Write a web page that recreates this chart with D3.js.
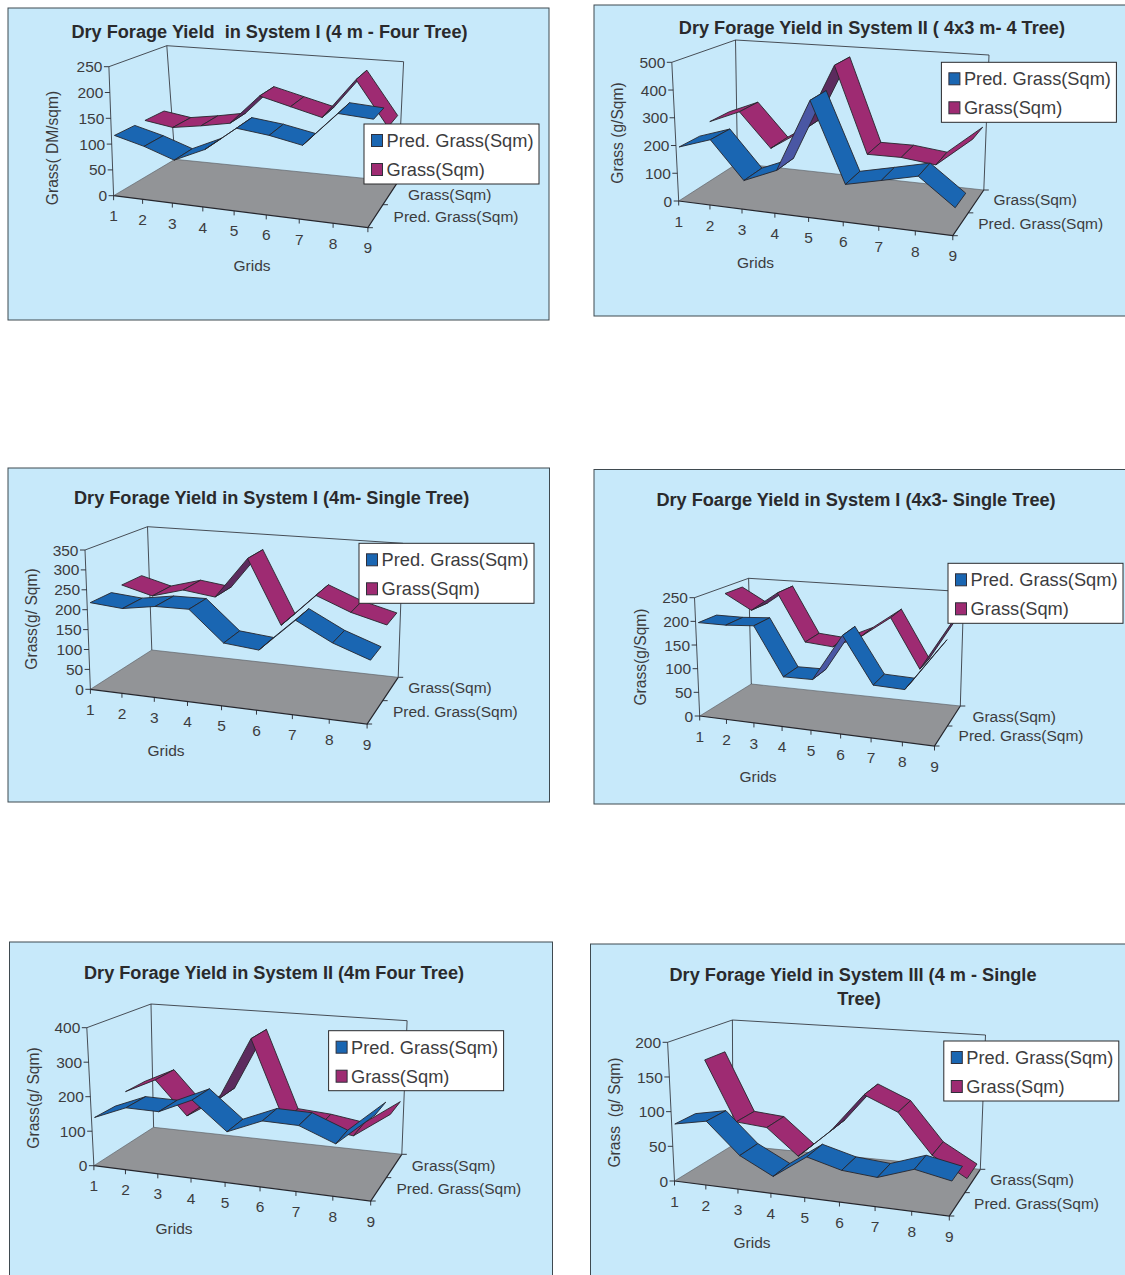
<!DOCTYPE html>
<html>
<head>
<meta charset="utf-8">
<script src="https://d3js.org/d3.v7.min.js"></script>
<style>
  html, body { margin: 0; padding: 0; background: #fff; }
  svg { display: block; }
  text { font-family: "Liberation Sans", Arial, sans-serif; fill: #3c3c3e; }
</style>
</head>
<body>
<svg id="sheet" width="1125" height="1275"></svg>
<script>
// Grid numbers shared by every plot
const grids = [1, 2, 3, 4, 5, 6, 7, 8, 9];
const seriesNames = ["Pred. Grass(Sqm)", "Grass(Sqm)"];

// Dry forage yield per grid, one pair of series per planting system
const predFourTree4m   = [114, 99, 79, 106, 153, 146, 134, 200, 196];
const grassFourTree4m  = [114, 105, 114, 125, 186, 170, 154, 235, 147];
const predFourTree4x3  = [189, 227, 94, 143, 399, 121, 148, 176, 85];
const grassFourTree4x3 = [224, 272, 145, 221, 474, 159, 160, 146, 249];
const predSingle4m     = [214, 207, 220, 221, 147, 139, 219, 174, 143];
const grassSingle4m    = [221, 199, 222, 211, 318, 154, 238, 203, 180];
const predSingle4x3    = [195, 195, 199, 99, 100, 196, 102, 100, 185];
const grassSingle4x3   = [235, 202, 245, 142, 137, 165, 210, 107, 210];
const predSysII4m      = [135, 173, 172, 215, 136, 177, 175, 136, 225];
const grassSysII4m     = [162, 207, 107, 167, 356, 122, 115, 100, 172];
const predSysIII4m     = [80, 89, 45, 21, 54, 41, 37, 54, 44];
const grassSysIII4m    = [154, 64, 60, 22, 64, 122, 101, 44, 16];

// Value axis tick labels
const ticks250 = [0, 50, 100, 150, 200, 250];
const ticks500 = [0, 100, 200, 300, 400, 500];
const ticks350 = [0, 50, 100, 150, 200, 250, 300, 350];
const ticks400 = [0, 100, 200, 300, 400];
const ticks200 = [0, 50, 100, 150, 200];

// Panel frames and the projected corners of each plot box
const panels = [
  { frame: [8, 8, 541, 312],
    title: [{ t: "Dry Forage Yield  in System I (4 m - Four Tree)", x: 269.5, y: 37.5 }],
    yLabel: { t: "Grass( DM/sqm)", x: 52.5, y: 148 }, grids: { x: 252, y: 265.5 },
    depth: [{ x: 393.6, y: 216.5 }, { x: 407.9, y: 194.5 }],
    legend: [364, 124], pred: predFourTree4m, grass: grassFourTree4m, ticks: ticks250,
    fl0: [113.6, 195.7], fr0: [367.9, 227.7], bl0: [175, 159.3], br0: [398, 181.7],
    fl1: [108.9, 66.7], bl1: [166.8, 45.7], br1: [403.6, 61.7] },
  { frame: [594, 5, 540, 311],
    title: [{ t: "Dry Forage Yield in System II ( 4x3 m- 4 Tree)", x: 871.9, y: 33.5 }],
    yLabel: { t: "Grass (g/Sqm)", x: 617.7, y: 133 }, grids: { x: 755.5, y: 262.7 },
    depth: [{ x: 978.2, y: 223.5 }, { x: 993.4, y: 199.5 }],
    legend: [941.4, 62.3], pred: predFourTree4x3, grass: grassFourTree4x3, ticks: ticks500,
    fl0: [678.7, 201], fr0: [952.8, 235.7], bl0: [737.5, 163.3], br0: [983.8, 190],
    fl1: [671.8, 62.3], bl1: [735.5, 40], br1: [989, 55] },
  { frame: [8, 468, 541.5, 334],
    title: [{ t: "Dry Forage Yield in System I (4m- Single Tree)", x: 271.6, y: 503.5 }],
    yLabel: { t: "Grass(g/ Sqm)", x: 31, y: 619 }, grids: { x: 166, y: 750.5 },
    depth: [{ x: 392.9, y: 711.7 }, { x: 408.2, y: 687.7 }],
    legend: [359, 543.3], pred: predSingle4m, grass: grassSingle4m, ticks: ticks350,
    fl0: [90.4, 689.3], fr0: [367.1, 724], bl0: [151.8, 650], br0: [398.2, 677.3],
    fl1: [85, 550], bl1: [147.5, 526.7], br1: [402.9, 543.3] },
  { frame: [594, 469.5, 540, 334.5],
    title: [{ t: "Dry Foarge Yield in System I (4x3- Single Tree)", x: 856, y: 506 }],
    yLabel: { t: "Grass(g/Sqm)", x: 640, y: 657 }, grids: { x: 758, y: 776.7 },
    depth: [{ x: 958.6, y: 735.7 }, { x: 972.4, y: 716.7 }],
    legend: [948, 563.3], pred: predSingle4x3, grass: grassSingle4x3, ticks: ticks250,
    fl0: [699.7, 716], fr0: [934.5, 746], bl0: [751.3, 684], br0: [960.3, 706],
    fl1: [694.5, 597.7], bl1: [748.6, 578.3], br1: [963.8, 591.7] },
  { frame: [9.5, 942, 543, 340],
    title: [{ t: "Dry Forage Yield in System II (4m Four Tree)", x: 274, y: 978.5 }],
    yLabel: { t: "Grass(g/ Sqm)", x: 33.5, y: 1098 }, grids: { x: 174, y: 1228.5 },
    depth: [{ x: 396.4, y: 1188.5 }, { x: 411.8, y: 1165.7 }],
    legend: [328.6, 1030.7], pred: predSysII4m, grass: grassSysII4m, ticks: ticks400,
    fl0: [93.9, 1165.7], fr0: [370.7, 1201], bl0: [153.6, 1127.3], br0: [401.8, 1154.3],
    fl1: [86.8, 1027.7], bl1: [151, 1004], br1: [407.1, 1020.7] },
  { frame: [590.5, 944, 545, 340],
    title: [{ t: "Dry Forage Yield in System III (4 m - Single", x: 853, y: 981 },
            { t: "Tree)", x: 859, y: 1005 }],
    yLabel: { t: "Grass  (g/ Sqm)", x: 614.5, y: 1112.5 }, grids: { x: 752, y: 1242.7 },
    depth: [{ x: 974.1, y: 1203.7 }, { x: 990.3, y: 1179.5 }],
    legend: [943.8, 1041], pred: predSysIII4m, grass: grassSysIII4m, ticks: ticks200,
    fl0: [674.5, 1181], fr0: [949.3, 1216], bl0: [733, 1145], br0: [980.3, 1169.3],
    fl1: [667.6, 1042.3], bl1: [732.4, 1020], br1: [985.5, 1035] }
];

const INK = "#26262c";
const ribbons = [
  { key: "grass", near: 0.56, far: 0.88, top: "#9e2b72", under: "#5c2b5e" },
  { key: "pred",  near: 0.05, far: 0.39, top: "#1a66b2", under: "#4a57a4" }
];

const mix = (a, b, t) => a + (b - a) * t;
const mixPt = (p, q, t) => [mix(p[0], q[0], t), mix(p[1], q[1], t)];

// Slight foreshortening along the grid axis
const foreshorten = 1.11;
const gridScale = d3.scaleLinear().domain([1, 9]).range([0, 1])
  .interpolate(() => t => t / (t + foreshorten * (1 - t)));

// The unseen upper front-right corner follows from the other walls
function frontRightTop(p) {
  const hBack = p.br0[1] - p.br1[1];
  const hRatio = (p.fl0[1] - p.fl1[1]) / (p.bl0[1] - p.bl1[1]);
  const h = hBack * hRatio;
  return [p.fr0[0] + (p.br1[0] - p.br0[0]) * hRatio * 0.85, p.fr0[1] - h];
}

function drawPanel(svg, p) {
  const fr1 = frontRightTop(p);
  const valueScale = d3.scaleLinear().domain(d3.extent(p.ticks)).range([0, 1]);

  // u along the grids, d into the depth, h up the value axis (all 0..1)
  const project = (u, d, h) => {
    const floor = mixPt(mixPt(p.fl0, p.fr0, u), mixPt(p.bl0, p.br0, u), d);
    const roof = mixPt(mixPt(p.fl1, fr1, u), mixPt(p.bl1, p.br1, u), d);
    return mixPt(floor, roof, h);
  };
  const line = d3.line();
  const g = svg.append("g");

  g.append("rect")
    .attr("x", p.frame[0]).attr("y", p.frame[1])
    .attr("width", p.frame[2]).attr("height", p.frame[3])
    .attr("fill", "#c7e9fa").attr("stroke", "#3f4a50").attr("stroke-width", 1);

  // Floor and wall outlines
  g.append("path")
    .attr("d", line([p.fl0, p.fr0, p.br0, p.bl0]) + "Z")
    .attr("fill", "#929497").attr("stroke", "none");
  g.append("path")
    .attr("d", line([p.fl0, p.fr0, p.br0]))
    .attr("fill", "none").attr("stroke", INK).attr("stroke-width", 1.2);
  g.append("path")
    .attr("d", line([p.fl0, p.bl0, p.br0]))
    .attr("fill", "none").attr("stroke", "#55585c").attr("stroke-width", 0.6);
  g.append("path")
    .attr("d", line([p.fl0, p.fl1, p.bl1, p.br1, p.br0]))
    .attr("fill", "none").attr("stroke", INK).attr("stroke-width", 0.8);
  g.append("path")
    .attr("d", line([p.bl0, p.bl1]))
    .attr("fill", "none").attr("stroke", INK).attr("stroke-width", 0.8);

  // Value axis
  const vt = g.selectAll(".vt").data(p.ticks).join("g").attr("class", "vt");
  vt.append("path").attr("d", v => {
    const a = project(0, 0, valueScale(v));
    return line([[a[0] - 5, a[1]], a]);
  }).attr("stroke", INK).attr("stroke-width", 0.9);
  vt.append("text")
    .attr("x", v => project(0, 0, valueScale(v))[0] - 6.5)
    .attr("y", v => project(0, 0, valueScale(v))[1])
    .attr("dy", "0.36em").attr("text-anchor", "end").attr("font-size", 15.5)
    .text(v => v);

  // Grid axis
  const ct = g.selectAll(".ct").data(grids).join("g").attr("class", "ct");
  ct.append("path").attr("d", c => {
    const a = project(gridScale(c), 0, 0);
    return line([a, [a[0], a[1] + 4.5]]);
  }).attr("stroke", INK).attr("stroke-width", 0.9);
  ct.append("text")
    .attr("x", c => project(gridScale(c), 0, 0)[0])
    .attr("y", c => project(gridScale(c), 0, 0)[1] + 20)
    .attr("dy", "0.36em").attr("text-anchor", "middle").attr("font-size", 15.5)
    .text(c => c);

  // Depth axis ticks and series names
  g.selectAll(".dt").data([0, 0.5, 1]).join("path").attr("class", "dt")
    .attr("d", d => {
      const a = project(1, d, 0);
      return line([a, [a[0] + 5, a[1]]]);
    }).attr("stroke", INK).attr("stroke-width", 0.9);
  g.selectAll(".dn").data(p.depth).join("text").attr("class", "dn")
    .attr("x", d => d.x).attr("y", d => d.y).attr("dy", "0.36em")
    .attr("font-size", 15.5).text((d, i) => seriesNames[i]);

  // Ribbons: back series first, each drawn segment by segment from grid 1
  ribbons.forEach(r => {
    const vals = p[r.key];
    const segs = d3.pairs(grids.map((c, i) => ({ c, v: vals[i] })));
    g.selectAll(".seg-" + r.key).data(segs).join("path")
      .attr("class", "seg-" + r.key)
      .each(function ([a, b]) {
        const ua = gridScale(a.c), ub = gridScale(b.c);
        const ha = valueScale(a.v), hb = valueScale(b.v);
        const quad = [
          project(ua, r.near, ha), project(ub, r.near, hb),
          project(ub, r.far, hb), project(ua, r.far, ha)
        ];
        // A positive area here means the winding has reversed on screen,
        // so the upper face is turned away and the underside shows
        const fill = d3.polygonArea(quad) < 0 ? r.under : r.top;
        d3.select(this)
          .attr("d", line(quad) + "Z")
          .attr("fill", fill)
          .attr("stroke", INK).attr("stroke-width", 0.9)
          .attr("stroke-linejoin", "round");
      });
  });

  // Titles and axis names
  g.selectAll(".ti").data(p.title).join("text").attr("class", "ti")
    .attr("x", d => d.x).attr("y", d => d.y)
    .attr("text-anchor", "middle").attr("font-weight", "bold")
    .attr("font-size", 18.15).style("fill", "#2a2a2c").style("white-space", "pre")
    .text(d => d.t);
  g.append("text")
    .attr("transform", `translate(${p.yLabel.x},${p.yLabel.y}) rotate(-90)`)
    .attr("dy", "0.36em").attr("text-anchor", "middle").attr("font-size", 15.6)
    .style("white-space", "pre").text(p.yLabel.t);
  g.append("text")
    .attr("x", p.grids.x).attr("y", p.grids.y).attr("dy", "0.36em")
    .attr("text-anchor", "middle").attr("font-size", 15.5).text("Grids");

  // Legend box
  const lg = g.append("g").attr("transform", `translate(${p.legend[0]},${p.legend[1]})`);
  lg.append("rect").attr("width", 175).attr("height", 60)
    .attr("fill", "#fff").attr("stroke", "#2a2a2c").attr("stroke-width", 1);
  const rows = lg.selectAll(".row").data(seriesNames).join("g").attr("class", "row")
    .attr("transform", (d, i) => `translate(0,${16.5 + i * 29})`);
  rows.append("rect").attr("x", 7.5).attr("y", -6).attr("width", 11).attr("height", 12)
    .attr("fill", (d, i) => i === 0 ? "#1a66b2" : "#9e2b72")
    .attr("stroke", "#2f2f3a").attr("stroke-width", 1);
  rows.append("text").attr("x", 22.5).attr("dy", "0.36em").attr("font-size", 18.25)
    .text(d => d);
}

const svg = d3.select("#sheet");
panels.forEach(p => drawPanel(svg, p));
</script>
</body>
</html>
